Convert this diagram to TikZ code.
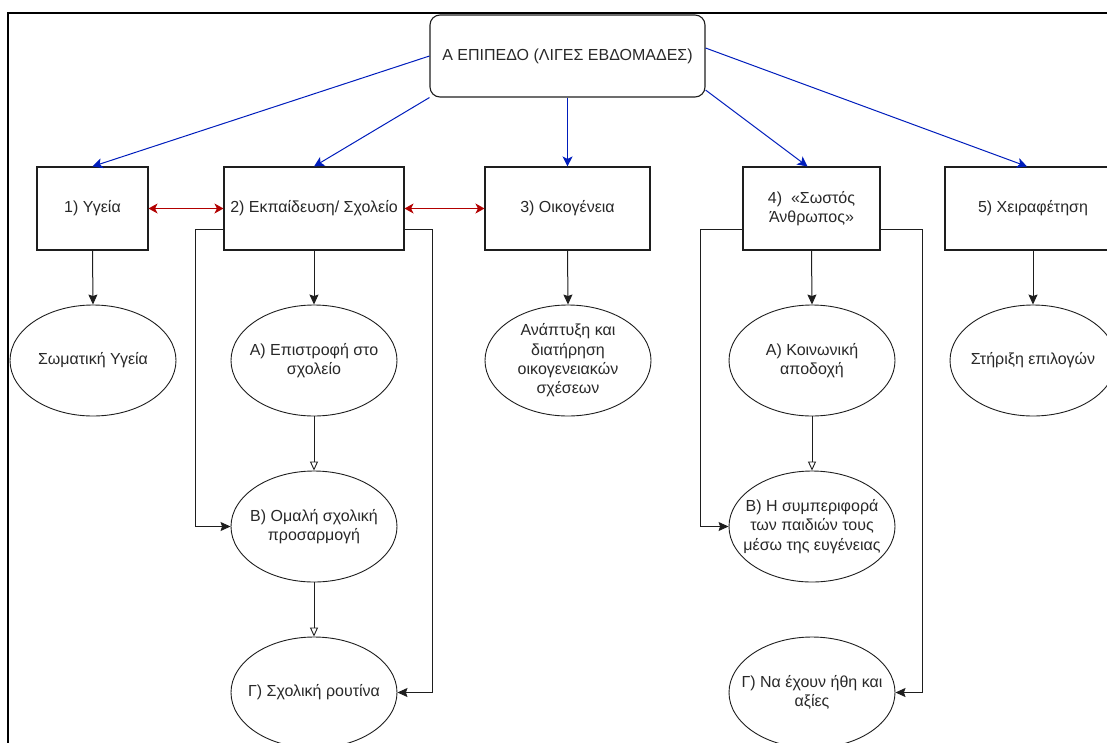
\documentclass[tikz,border=0pt]{standalone}
\usepackage{fontspec}
\setmainfont{Liberation Sans}
\usetikzlibrary{arrows.meta,shapes.geometric}
\definecolor{dblue}{RGB}{0,29,188}
\definecolor{dred}{RGB}{178,0,0}
\definecolor{txt}{RGB}{40,40,40}
\definecolor{ln}{RGB}{30,30,30}
\begin{document}
\begin{tikzpicture}[x=1pt,y=-1pt,
  every node/.style={font=\fontsize{16}{19.3}\selectfont, text=txt},
  box/.style={draw=ln, line width=1.1pt, minimum height=83pt, inner sep=0pt, align=center},
  topbox/.style={box, rounded corners=10pt, minimum width=275pt, minimum height=82pt},
  oval/.style={draw=ln, ellipse, line width=0.9pt, minimum width=166pt, minimum height=111pt, inner sep=0pt},
  ovtext/.style={align=center},
  blk/.style={-{Stealth[length=10pt,width=9pt,inset=1.5pt]}, color=ln, line width=1pt},
  opn/.style={-{Triangle[open,length=9pt,width=8pt]}, color=ln, line width=0.9pt},
  bl/.style={-{Stealth[length=10pt,width=10pt,inset=2.5pt]}, color=dblue, line width=1pt},
  rd/.style={{Stealth[length=9pt,width=10pt,inset=2.5pt]}-{Stealth[length=9pt,width=10pt,inset=2.5pt]}, color=dred, line width=1pt}
]
\useasboundingbox (0,0) rectangle (1107,742);
\clip (0,0) rectangle (1107,742);
\draw[line width=1.8pt] (8,13) rectangle (1130,770);

\node[topbox] (top) at (567.5,56) {Α ΕΠΙΠΕΔΟ (ΛΙΓΕΣ ΕΒΔΟΜΑΔΕΣ)};

\node[box, minimum width=111pt] (b1) at (92.5,208.5) {1) Υγεία};
\node[box, minimum width=180pt] (b2) at (314,208.5) {2) Εκπαίδευση/ Σχολείο};
\node[box, minimum width=165pt] (b3) at (567.5,208.5) {3) Οικογένεια};
\node[box, minimum width=137pt] (b4) at (811.5,208.5) {4)\ \ «Σωστός\\Άνθρωπος»};
\node[box, minimum width=176pt] (b5) at (1033,208.5) {5) Χειραφέτηση};

\node[oval, label={[ovtext]center:{Σωματική Υγεία}}] (e1) at (93,360.5) {};
\node[oval, label={[ovtext]center:{Α) Επιστροφή στο\\σχολείο}}] (eA2) at (314,360.5) {};
\node[oval, label={[ovtext]center:{Β) Ομαλή σχολική\\προσαρμογή}}] (eB2) at (314,526.5) {};
\node[oval, label={[ovtext]center:{Γ) Σχολική ρουτίνα}}] (eG2) at (314,692.5) {};
\node[oval, label={[ovtext]center:{Ανάπτυξη και\\διατήρηση\\οικογενειακών\\σχέσεων}}] (e3) at (568,360.5) {};
\node[oval, label={[ovtext]center:{Α) Κοινωνική\\αποδοχή}}] (eA4) at (812,360.5) {};
\node[oval, label={[ovtext]center:{Β) Η συμπεριφορά\\των παιδιών τους\\μέσω της ευγένειας}}] (eB4) at (812,526.5) {};
\node[oval, label={[ovtext]center:{Γ) Να έχουν ήθη και\\αξίες}}] (eG4) at (812,692.5) {};
\node[oval, label={[ovtext]center:{Στήριξη επιλογών}}] (e5) at (1033,360.5) {};

\draw[bl] (top.west) -- (b1.north);
\draw[bl] (top.south west) -- (b2.north);
\draw[bl] (top.south) -- (b3.north);
\draw[bl] ([yshift=-34pt]top.east) -- ([xshift=-4pt]b4.north);
\draw[bl] ([yshift=8pt]top.east) -- ([xshift=-6pt]b5.north);

\draw[rd] (b1.east) -- (b2.west);
\draw[rd] (b2.east) -- (b3.west);

\draw[blk] (b1.south) -- (e1.north);
\draw[blk] (b2.south) -- (eA2.north);
\draw[blk] (b3.south) -- (e3.north);
\draw[blk] (b4.south) -- (eA4.north);
\draw[blk] (b5.south) -- (e5.north);

\draw[opn] (eA2.south) -- (eB2.north);
\draw[opn] (eB2.south) -- (eG2.north);
\draw[opn] (eA4.south) -- (eB4.north);

\draw[blk] ([yshift=-20.5pt]b2.west) -- ++(-28,0) |- (eB2.west);
\draw[blk] ([yshift=-20.5pt]b2.east) -- ++(28,0) |- (eG2.east);
\draw[blk] ([yshift=-20.5pt]b4.west) -- ++(-42,0) |- (eB4.west);
\draw[blk] ([yshift=-20.5pt]b4.east) -- ++(42,0) |- (eG4.east);
\end{tikzpicture}
\end{document}
